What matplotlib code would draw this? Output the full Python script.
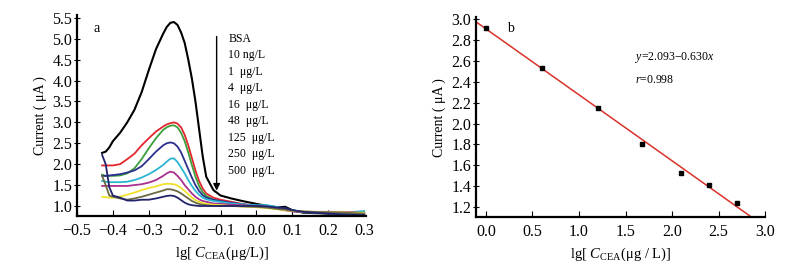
import numpy as np
import matplotlib
matplotlib.use("Agg")
import matplotlib.pyplot as plt

plt.rcParams['font.family'] = ['Liberation Serif', 'DejaVu Serif']
plt.rcParams['mathtext.fontset'] = 'custom'
plt.rcParams['mathtext.rm'] = 'Liberation Serif'
plt.rcParams['mathtext.it'] = 'Liberation Serif:italic'

# panel a: DPV curves (shared potential grid)
xa = [-0.43, -0.42, -0.41, -0.40, -0.38, -0.36, -0.34, -0.32, -0.30, -0.28,
      -0.26, -0.25, -0.24, -0.23, -0.22, -0.21, -0.20, -0.19, -0.18, -0.17,
      -0.16, -0.15, -0.14, -0.12, -0.10, -0.07, -0.04, 0.0, 0.03, 0.06,
      0.08, 0.10, 0.13, 0.16, 0.20, 0.24, 0.27, 0.30]

bsa = [2.27, 2.30, 2.40, 2.55, 2.75, 3.00, 3.30, 3.72, 4.25, 4.75,
       5.12, 5.28, 5.38, 5.40, 5.33, 5.15, 4.90, 4.50, 4.05, 3.50,
       2.85, 2.20, 1.70, 1.38, 1.25, 1.18, 1.12, 1.05, 1.00, 0.97,
       0.98, 0.90, 0.84, 0.83, 0.82, 0.82, 0.80, 0.78]
c10ng = [1.97, 1.97, 1.97, 1.97, 2.00, 2.12, 2.25, 2.45, 2.62, 2.78,
         2.90, 2.95, 2.98, 3.00, 2.97, 2.88, 2.70, 2.45, 2.15, 1.85,
         1.60, 1.42, 1.30, 1.20, 1.15, 1.10, 1.05, 1.00, 0.97, 0.93,
         0.90, 0.88, 0.86, 0.85, 0.84, 0.83, 0.82, 0.82]
c1 = [1.75, 1.72, 1.72, 1.72, 1.73, 1.78, 1.90, 2.12, 2.38, 2.62,
      2.82, 2.88, 2.92, 2.93, 2.88, 2.75, 2.55, 2.28, 1.98, 1.70,
      1.48, 1.33, 1.24, 1.15, 1.10, 1.06, 1.03, 1.00, 0.98, 0.95,
      0.92, 0.88, 0.85, 0.84, 0.84, 0.84, 0.85, 0.85]
c4 = [1.72, 1.72, 1.73, 1.74, 1.76, 1.80, 1.85, 1.95, 2.12, 2.30,
      2.45, 2.50, 2.52, 2.50, 2.42, 2.28, 2.08, 1.88, 1.68, 1.50,
      1.36, 1.26, 1.20, 1.15, 1.12, 1.08, 1.04, 1.00, 0.99, 0.97,
      0.95, 0.88, 0.85, 0.84, 0.82, 0.80, 0.80, 0.80]
c16 = [1.60, 1.58, 1.57, 1.57, 1.57, 1.58, 1.62, 1.68, 1.76, 1.86,
       1.98, 2.06, 2.13, 2.14, 2.05, 1.92, 1.78, 1.62, 1.48, 1.36,
       1.27, 1.20, 1.16, 1.12, 1.10, 1.06, 1.04, 1.02, 1.02, 0.97,
       0.93, 0.90, 0.86, 0.85, 0.84, 0.83, 0.86, 0.88]
c48 = [1.48, 1.48, 1.48, 1.48, 1.48, 1.48, 1.50, 1.52, 1.56, 1.62,
       1.72, 1.78, 1.82, 1.80, 1.72, 1.62, 1.50, 1.40, 1.30, 1.22,
       1.16, 1.12, 1.10, 1.06, 1.05, 1.03, 1.02, 1.00, 0.98, 0.93,
       0.90, 0.87, 0.86, 0.86, 0.86, 0.86, 0.85, 0.83]
c125 = [1.22, 1.21, 1.20, 1.20, 1.22, 1.27, 1.32, 1.38, 1.43, 1.47,
        1.52, 1.53, 1.53, 1.52, 1.49, 1.43, 1.36, 1.28, 1.20, 1.14,
        1.10, 1.07, 1.05, 1.03, 1.02, 1.00, 0.99, 0.97, 0.95, 0.92,
        0.90, 0.88, 0.87, 0.86, 0.85, 0.85, 0.84, 0.84]
c250 = [1.72, 1.50, 1.25, 1.22, 1.18, 1.15, 1.18, 1.22, 1.27, 1.32,
        1.37, 1.40, 1.40, 1.38, 1.35, 1.30, 1.24, 1.18, 1.12, 1.08,
        1.05, 1.03, 1.02, 1.00, 1.00, 1.00, 0.99, 0.98, 0.96, 0.93,
        0.91, 0.89, 0.87, 0.86, 0.85, 0.84, 0.83, 0.82]
c500 = [2.22, 2.00, 1.45, 1.25, 1.20, 1.13, 1.13, 1.15, 1.15, 1.18,
        1.22, 1.24, 1.25, 1.24, 1.20, 1.14, 1.08, 1.04, 1.02, 1.01,
        1.00, 1.00, 1.00, 1.00, 1.00, 1.00, 1.00, 1.00, 0.99, 0.96,
        0.95, 0.90, 0.86, 0.84, 0.82, 0.80, 0.79, 0.78]

curves = [bsa, c10ng, c1, c4, c16, c48, c125, c250, c500]
colors = ['#000000', '#e3262c', '#3a9e3a', '#2c2f8c', '#2cb5d3',
          '#a8308f', '#f0e229', '#6a6a45', '#23236b']
labels = ['BSA', '10 ng/L', '1  \u03bcg/L', '4  \u03bcg/L', '16  \u03bcg/L',
          '48  \u03bcg/L', '125  \u03bcg/L', '250  \u03bcg/L', '500  \u03bcg/L']

# panel b: calibration
xb = [0.0, 0.6, 1.2, 1.68, 2.1, 2.4, 2.7]
yb = [2.92, 2.53, 2.15, 1.80, 1.53, 1.41, 1.24]
fit_a, fit_b = 2.907, -0.632

fig = plt.figure(figsize=(7.88, 2.71), dpi=100)
ax1 = fig.add_axes([0.0977, 0.203, 0.367, 0.742])
ax2 = fig.add_axes([0.604, 0.199, 0.367, 0.738])

for y, c in zip(curves, colors):
    lw = 1.5 if c == '#000000' else 1.3
    ax1.plot(xa, y, color=c, lw=lw)

ax1.annotate('', xy=(-0.111, 1.3), xytext=(-0.111, 5.12),
             arrowprops=dict(arrowstyle='-|>', color='black', lw=1.0,
                             mutation_scale=10))
ty = 5.0
for lab in labels:
    ax1.text(-0.078, ty, lab, fontsize=8.5, va='center', ha='left')
    ty -= 0.395
ax1.text(-0.455, 5.25, 'a', fontsize=10, va='center')

ax1.set_xlim(-0.5, 0.3056)
ax1.set_ylim(0.761, 5.57)
ax1.set_xticks(np.arange(-0.5, 0.31, 0.1))
ax1.set_xticklabels(['\u22120.5', '\u22120.4', '\u22120.3', '\u22120.2', '\u22120.1',
                     '0.0', '0.1', '0.2', '0.3'])
ax1.set_yticks(np.arange(1.0, 5.51, 0.5))
ax1.set_yticklabels(['%.1f' % v for v in np.arange(1.0, 5.51, 0.5)])
ax1.set_ylabel('Current ( \u03bcA )', fontsize=10)
ax1.set_xlabel(r'lg[ $C_{\mathrm{CEA}}$($\mathrm{\mu}$g/L)]', fontsize=10.5)

xs = np.array([-0.12, 3.0])
ax2.plot(xs, fit_a + fit_b * xs, color='#d8332a', lw=1.1)
ax2.plot(xb, yb, 's', color='black', ms=3.5)
ax2.text(0.23, 2.91, 'b', fontsize=10, va='center')
ax2.text(1.6, 2.63, '$y$=2.093\u22120.630$x$', fontsize=8.5, va='center')
ax2.text(1.6, 2.42, '$r$=0.998', fontsize=8.5, va='center')
ax2.set_xlim(-0.1075, 3.0)
ax2.set_ylim(1.104, 3.02)
ax2.set_xticks(np.arange(0, 3.01, 0.5))
ax2.set_xticklabels(['%.1f' % v for v in np.arange(0, 3.01, 0.5)])
ax2.set_yticks(np.arange(1.2, 3.01, 0.2))
ax2.set_yticklabels(['%.1f' % v for v in np.arange(1.2, 3.01, 0.2)])
ax2.set_ylabel('Current ( \u03bcA )', fontsize=10)
ax2.set_xlabel(r'lg[ $C_{\mathrm{CEA}}$($\mathrm{\mu}$g / L)]', fontsize=10.5)

for ax in (ax1, ax2):
    ax.spines['top'].set_visible(False)
    ax.spines['right'].set_visible(False)
    ax.spines['left'].set_linewidth(1.6)
    ax.spines['bottom'].set_linewidth(1.6)
    ax.tick_params(axis='x', direction='in', length=4, width=0.8,
                   labelsize=11.5, pad=5)
    ax.tick_params(axis='y', direction='inout', length=5, width=0.8,
                   labelsize=11.5, pad=1)

fig.savefig('out.png', dpi=100)
